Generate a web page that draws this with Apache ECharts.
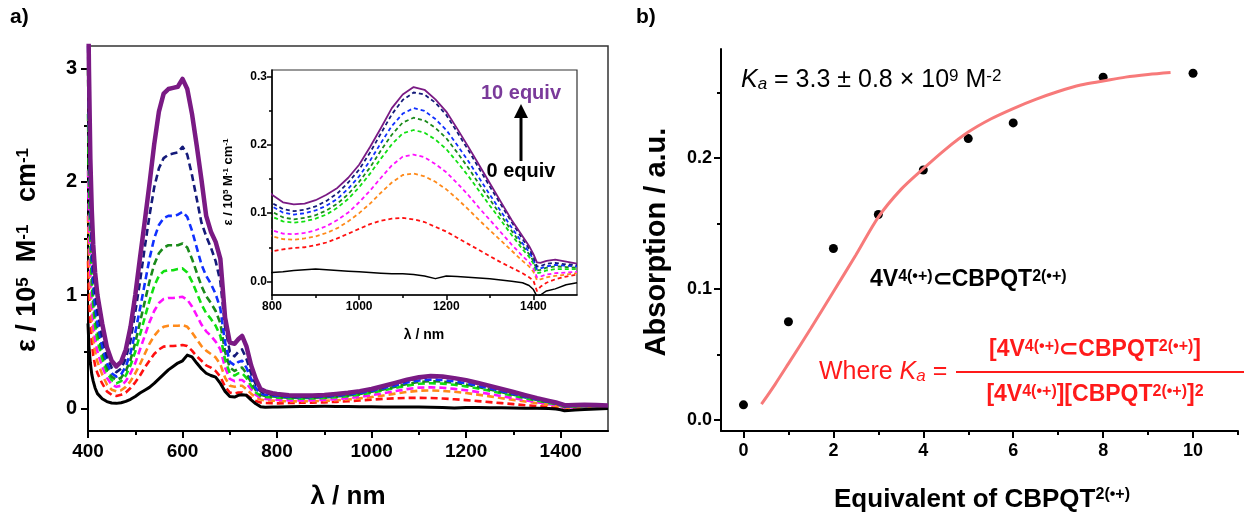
<!DOCTYPE html>
<html><head><meta charset="utf-8">
<script src="https://cdn.jsdelivr.net/npm/echarts@6/dist/echarts.min.js"></script>
<style>html,body{margin:0;padding:0;background:#fff}#c{width:1244px;height:514px}</style>
</head><body><div id="c"></div>
<script>
const FONT = '"Liberation Sans", Arial, Helvetica, sans-serif';

// ---------- Panel a: spectra (wavelength nm, epsilon / 1e5 M-1 cm-1) ----------
const W = [400,402,405,408,411,415,420,
  430,440,450,460,470,480,490,500,
  510,520,530,540,550,560,570,580,590,600,
  610,620,630,640,650,660,670,680,690,700,
  710,718,726,735,745,755,765,775,790,
  800,825,850,875,900,925,950,975,1000,
  1025,1050,1075,1100,1125,1150,1175,1200,
  1225,1250,1275,1300,1325,1350,1375,
  1390,1400,1408,1416,1430,1450,1475,1500];

const EQ0 = [0.75,0.55,0.40,0.30,0.24,0.18,0.13,
  0.085,0.06,0.047,0.044,0.05,0.062,0.08,0.105,
  0.135,0.16,0.185,0.22,0.26,0.30,0.34,0.37,0.40,0.42,
  0.47,0.455,0.40,0.35,0.31,0.29,0.275,0.22,0.15,0.105,
  0.10,0.115,0.12,0.115,0.075,0.04,0.015,0.01,0.012,
  0.013,0.014,0.016,0.017,0.018,0.017,0.016,0.015,0.014,
  0.013,0.012,0.011,0.011,0.010,0.008,0.004,0.008,
  0.007,0.006,0.005,0.004,0.002,0.000,-0.002,
  -0.006,-0.012,-0.022,-0.020,-0.014,-0.011,-0.005,-0.002];

const EQ1 = [1.3,1.0,0.75,0.58,0.47,0.38,0.31,
  0.22,0.15,0.12,0.11,0.12,0.14,0.18,0.23,
  0.29,0.36,0.42,0.48,0.52,0.545,0.55,0.55,0.555,0.56,
  0.55,0.51,0.46,0.42,0.38,0.36,0.33,0.28,0.19,0.14,
  0.13,0.14,0.14,0.12,0.09,0.065,0.052,0.047,0.045,
  0.044,0.047,0.049,0.050,0.053,0.057,0.063,0.070,0.077,
  0.084,0.089,0.092,0.093,0.091,0.087,0.080,0.073,
  0.064,0.055,0.046,0.037,0.028,0.020,0.012,
  0.006,0.001,-0.014,-0.008,-0.002,0.003,0.007,0.010];

const EQ2 = [1.7,1.3,0.98,0.76,0.62,0.50,0.41,
  0.30,0.21,0.165,0.15,0.16,0.19,0.24,0.31,
  0.39,0.48,0.57,0.64,0.69,0.72,0.73,0.73,0.73,0.735,
  0.72,0.67,0.61,0.55,0.51,0.48,0.45,0.39,0.27,0.20,
  0.19,0.20,0.20,0.17,0.13,0.095,0.078,0.07,0.068,
  0.066,0.062,0.061,0.063,0.066,0.071,0.078,0.088,0.100,
  0.114,0.130,0.145,0.156,0.158,0.154,0.146,0.135,
  0.121,0.106,0.090,0.075,0.060,0.045,0.030,
  0.022,0.014,0.002,0.003,0.006,0.008,0.010,0.012];

const EQ3 = [2.1,1.6,1.2,0.92,0.75,0.61,0.50,
  0.37,0.27,0.21,0.19,0.20,0.24,0.31,0.40,
  0.52,0.64,0.76,0.86,0.93,0.965,0.975,0.975,0.98,0.985,
  0.96,0.90,0.82,0.74,0.68,0.64,0.59,0.52,0.36,0.26,
  0.24,0.25,0.25,0.22,0.17,0.12,0.095,0.082,0.078,
  0.075,0.070,0.069,0.071,0.075,0.081,0.090,0.101,0.116,
  0.133,0.152,0.170,0.183,0.186,0.182,0.172,0.160,
  0.144,0.127,0.108,0.090,0.072,0.054,0.037,
  0.028,0.019,0.006,0.007,0.010,0.012,0.013,0.014];

const EQ4 = [2.6,2.0,1.45,1.1,0.9,0.73,0.60,
  0.44,0.32,0.25,0.22,0.24,0.29,0.38,0.50,
  0.65,0.80,0.95,1.08,1.17,1.21,1.22,1.22,1.23,1.236,
  1.20,1.12,1.02,0.92,0.84,0.79,0.73,0.64,0.43,0.31,
  0.29,0.31,0.31,0.27,0.20,0.14,0.11,0.10,0.097,
  0.095,0.088,0.086,0.088,0.092,0.098,0.108,0.121,0.138,
  0.158,0.180,0.201,0.217,0.222,0.218,0.208,0.194,
  0.175,0.155,0.133,0.111,0.090,0.068,0.047,
  0.036,0.026,0.012,0.013,0.016,0.018,0.018,0.018];

const EQ5 = [3.0,2.3,1.65,1.25,1.0,0.82,0.68,
  0.50,0.36,0.28,0.25,0.27,0.33,0.43,0.58,
  0.76,0.94,1.12,1.27,1.37,1.42,1.44,1.44,1.44,1.456,
  1.42,1.32,1.20,1.08,0.99,0.93,0.86,0.75,0.50,0.36,
  0.33,0.35,0.36,0.31,0.23,0.16,0.12,0.108,0.105,
  0.102,0.094,0.091,0.093,0.097,0.104,0.114,0.128,0.146,
  0.167,0.192,0.215,0.233,0.240,0.236,0.225,0.210,
  0.189,0.167,0.143,0.120,0.097,0.074,0.052,
  0.040,0.030,0.016,0.017,0.020,0.022,0.021,0.020];

const EQ6 = [3.3,2.5,1.8,1.35,1.1,0.9,0.75,
  0.55,0.40,0.31,0.28,0.30,0.37,0.49,0.67,
  0.88,1.10,1.32,1.50,1.62,1.68,1.70,1.70,1.71,1.735,
  1.69,1.57,1.42,1.27,1.17,1.10,1.01,0.88,0.58,0.41,
  0.38,0.41,0.42,0.36,0.26,0.18,0.13,0.12,0.114,
  0.110,0.101,0.098,0.100,0.104,0.111,0.121,0.136,0.154,
  0.177,0.203,0.228,0.246,0.254,0.250,0.238,0.222,
  0.200,0.177,0.152,0.127,0.103,0.079,0.056,
  0.043,0.032,0.018,0.019,0.022,0.024,0.023,0.022];

const EQ8 = [3.5,2.7,1.95,1.5,1.25,1.03,0.86,
  0.63,0.46,0.36,0.32,0.35,0.44,0.60,0.85,
  1.12,1.42,1.70,1.95,2.12,2.21,2.24,2.25,2.26,2.31,
  2.24,2.06,1.85,1.64,1.52,1.42,1.30,1.12,0.72,0.50,
  0.46,0.50,0.52,0.44,0.31,0.21,0.15,0.13,0.12,
  0.115,0.106,0.103,0.105,0.110,0.118,0.129,0.145,0.164,
  0.189,0.217,0.245,0.266,0.277,0.274,0.262,0.244,
  0.219,0.193,0.166,0.139,0.113,0.087,0.062,
  0.048,0.036,0.022,0.022,0.026,0.027,0.025,0.024];

const EQ10 = [3.8,3.0,2.2,1.75,1.45,1.2,1.0,
  0.75,0.54,0.42,0.37,0.41,0.52,0.72,1.0,
  1.33,1.65,1.98,2.33,2.62,2.78,2.82,2.83,2.84,2.91,
  2.82,2.60,2.32,2.02,1.70,1.56,1.47,1.32,0.80,0.58,
  0.57,0.61,0.64,0.55,0.38,0.26,0.17,0.15,0.133,
  0.127,0.116,0.113,0.114,0.119,0.127,0.137,0.152,0.171,
  0.197,0.225,0.254,0.274,0.285,0.281,0.267,0.249,
  0.224,0.198,0.171,0.144,0.117,0.090,0.066,
  0.052,0.040,0.028,0.027,0.030,0.032,0.029,0.026];

const A_X_LABELS = [400,600,800,1000,1200,1400];
const A_X_MINOR = [500,700,900,1100,1300];
const A_Y_LABELS = [0,1,2,3];
const A_Y_MINOR = [0.5,1.5,2.5];
const IN_X_LABELS = [800,1000,1200,1400];
const IN_X_MINOR = [900,1100,1300];
const IN_Y_LABELS = [0,0.1,0.2,0.3];
const IN_Y_MINOR = [0.05,0.15,0.25];

// ---------- Panel b: titration ----------
const B_EQUIV = [0,1,2,3,4,5,6,8,10];
const B_ABS = [0.0115,0.075,0.131,0.157,0.191,0.215,0.227,0.262,0.265];
const FIT_X = [0.4,0.7,1.0,1.5,2.0,2.5,3.0,3.5,4.0,4.5,5.0,5.5,6.0,6.5,7.0,7.5,8.0,8.5,9.0,9.5];
const FIT_Y = [0.012,0.027,0.043,0.070,0.098,0.126,0.155,0.176,0.192,0.207,0.220,0.230,0.238,0.245,0.251,0.256,0.259,0.262,0.264,0.2655];
const B_X_LABELS = [0,2,4,6,8,10];
const B_X_MINOR = [1,3,5,7,9,11];
const B_Y_LABELS = [0,0.1,0.2];
const B_Y_MINOR = [0.05,0.15,0.25];

const SERIES_DEF = [
  {v: EQ1, color:'#ff1010', dash:true},
  {v: EQ2, color:'#ff8a1a', dash:true},
  {v: EQ3, color:'#ff10ff', dash:true},
  {v: EQ4, color:'#10e010', dash:true},
  {v: EQ5, color:'#1a8a1a', dash:true},
  {v: EQ6, color:'#1030ff', dash:true},
  {v: EQ8, color:'#141a7a', dash:true},
  {v: EQ0, color:'#000000', dash:false, w:3, wi:1.5},
  {v: EQ10, color:'#7a1a84', dash:false, w:4.5, wi:1.8}
];

function zip(xs, ys, filt) {
  const out = [];
  for (let i = 0; i < xs.length; i++) if (!filt || filt(xs[i])) out.push([xs[i], ys[i]]);
  return out;
}

function xAx(grid, min, max, labels, ticks, opt) {
  return {
    gridIndex: grid, type:'value', min, max, position:'bottom',
    axisLine: {show: opt.line !== false, onZero:false, lineStyle:{color:'#000', width: opt.lw || 2}},
    axisTick: {show:true, customValues: ticks, length: opt.tl, lineStyle:{color:'#000', width: opt.tw || 2}},
    axisLabel: labels ? {show:true, customValues: labels, margin: opt.margin, fontSize: opt.fs, fontWeight:'bold', color:'#000', fontFamily: FONT,
      formatter: opt.fmt || (v => String(v))} : {show:false},
    splitLine: {show:false}, minorTick:{show:false}
  };
}
function yAx(grid, min, max, labels, ticks, opt) {
  const a = xAx(grid, min, max, labels, ticks, opt);
  a.position = 'left';
  return a;
}

const xAxes = [
  xAx(0, 400, 1500, A_X_LABELS, A_X_LABELS, {tl:7, margin:11, fs:19}),
  xAx(0, 400, 1500, null, A_X_MINOR, {tl:4, line:false}),
  xAx(1, 800, 1500, IN_X_LABELS, IN_X_LABELS, {tl:5, margin:6, fs:12, lw:1.5, tw:1.5}),
  xAx(1, 800, 1500, null, IN_X_MINOR, {tl:3, line:false, tw:1.5}),
  xAx(2, -0.5, 11, B_X_LABELS, B_X_LABELS, {tl:7, margin:11, fs:18}),
  xAx(2, -0.5, 11, null, B_X_MINOR, {tl:4, line:false})
];
const yAxes = [
  yAx(0, -0.2, 3.2, A_Y_LABELS, A_Y_LABELS, {tl:7, margin:11, fs:20}),
  yAx(0, -0.2, 3.2, null, A_Y_MINOR, {tl:4, line:false}),
  yAx(1, -0.02, 0.31, IN_Y_LABELS, IN_Y_LABELS, {tl:5, margin:5, fs:12, lw:1.5, tw:1.5, fmt: v => v.toFixed(1)}),
  yAx(1, -0.02, 0.31, null, IN_Y_MINOR, {tl:3, line:false, tw:1.5}),
  yAx(2, -0.0085, 0.2835, B_Y_LABELS, B_Y_LABELS, {tl:7, margin:9, fs:18, fmt: v => v.toFixed(1)}),
  yAx(2, -0.0085, 0.2835, null, B_Y_MINOR, {tl:4, line:false})
];

const series = [];
SERIES_DEF.forEach(d => {
  series.push({
    type:'line', xAxisIndex:0, yAxisIndex:0, data: zip(W, d.v), symbol:'none', showSymbol:false,
    clip:true, silent:true,
    lineStyle:{color:d.color, width: d.dash ? 2.6 : d.w, type: d.dash ? [7,4] : 'solid', cap:'butt', join:'round'}
  });
});
SERIES_DEF.forEach(d => {
  series.push({
    type:'line', xAxisIndex:2, yAxisIndex:2, data: zip(W, d.v, x => x >= 790), symbol:'none', showSymbol:false,
    clip:true, silent:true,
    lineStyle:{color:d.color, width: d.dash ? 1.8 : d.wi, type: d.dash ? [4,3] : 'solid', cap:'butt', join:'round'}
  });
});
series.push({
  type:'line', xAxisIndex:4, yAxisIndex:4, data: zip(FIT_X, FIT_Y), symbol:'none', smooth:0.3,
  silent:true, lineStyle:{color:'#f77a7a', width:3}
});
series.push({
  type:'scatter', xAxisIndex:4, yAxisIndex:4, data: zip(B_EQUIV, B_ABS), symbol:'circle', symbolSize:9,
  silent:true, itemStyle:{color:'#000', opacity:1}
});

// ---------- rich text helpers ----------
function rich(size, color, weight, sr) {
  const s = Math.round(size * (sr || 0.62));
  const base = {fontFamily: FONT, fill: color, color: color};
  return {
    n: Object.assign({}, base, {fontSize:size, fontWeight:weight, lineHeight:Math.round(size*1.0), verticalAlign:'bottom'}),
    i: Object.assign({}, base, {fontSize:size, fontWeight:weight, fontStyle:'italic', lineHeight:Math.round(size*1.0), verticalAlign:'bottom'}),
    s: Object.assign({}, base, {fontSize:s, fontWeight:weight, lineHeight:Math.round(s*1.0), verticalAlign:'top'}),
    u: Object.assign({}, base, {fontSize:s, fontWeight:weight, fontStyle:'italic', lineHeight:Math.round(s*1.0), verticalAlign:'bottom'})
  };
}
function txt(text, x, y, size, color, weight, align, rot, sr) {
  return {
    type:'text', x, y, rotation: rot || 0, silent:true, z:100,
    style:{text, rich: rich(size, color, weight, sr), fill: color,
      font: weight + ' ' + size + 'px ' + FONT,
      align: align || 'center', verticalAlign:'middle', textAlign: align || 'center', textVerticalAlign:'middle'}
  };
}

const RED = '#ff1a1a';
const graphic = [
  txt('{n|a)}', 10, 17, 21, '#000', 'bold', 'left'),
  txt('{n|b)}', 636, 17, 21, '#000', 'bold', 'left'),
  txt('{n|ε / 10}{s|5}{n|  M}{s|-1}{n|   cm}{s|-1}', 28, 250, 27, '#000', 'bold', 'center', Math.PI/2),
  txt('{n|λ / nm}', 348, 497, 26, '#000', 'bold', 'center'),
  txt('{n|ε / 10}{s|5}{n| M}{s|-1}{n| cm}{s|-1}', 228, 182, 13, '#000', 'bold', 'center', Math.PI/2),
  txt('{n|λ / nm}', 424, 335, 14, '#000', 'bold', 'center'),
  txt('{n|10 equiv}', 521, 93, 20, '#7a3a9a', 'bold', 'center'),
  txt('{n|0 equiv}', 521, 171, 20, '#000', 'bold', 'center'),
  {type:'line', silent:true, z:100, shape:{x1:521, y1:161, x2:521, y2:114}, style:{stroke:'#000', lineWidth:3}},
  {type:'polygon', silent:true, z:100, shape:{points:[[521,104],[514,118],[528,118]]}, style:{fill:'#000'}},
  txt('{n|Absorption / a.u.}', 657, 242, 29, '#000', 'bold', 'center', Math.PI/2),
  txt('{n|Equivalent of CBPQT}{s|2(•+)}', 982, 500, 26, '#000', 'bold', 'center'),
  txt('{i|K}{u|a}{n| = 3.3 ± 0.8 × 10}{s|9}{n| M}{s|-2}', 741, 80, 25, '#000', 'normal', 'left', 0, 0.66),
  txt('{n|4V}{s|4(•+)}{n|⊂CBPQT}{s|2(•+)}', 870, 280, 23, '#000', 'bold', 'left', 0, 0.7),
  txt('{n|Where }{i|K}{u|a}{n| =}', 819, 372, 25, RED, 'normal', 'left', 0, 0.66),
  {type:'line', silent:true, z:100, shape:{x1:956, y1:372, x2:1244, y2:372}, style:{stroke:RED, lineWidth:2}},
  txt('{n|[4V}{s|4(•+)}{n|⊂CBPQT}{s|2(•+)}{n|]}', 1095, 350, 23, RED, 'bold', 'center', 0, 0.7),
  txt('{n|[4V}{s|4(•+)}{n|][CBPQT}{s|2(•+)}{n|]}{s|2}', 1095, 395, 23, RED, 'bold', 'center', 0, 0.7)
];

const chart = echarts.init(document.getElementById('c'), null, {renderer:'canvas'});
chart.setOption({
  animation:false,
  backgroundColor:'#fff',
  grid:[
    {left:88, top:46, width:520, height:385, show:true, borderColor:'#333', borderWidth:1.5, backgroundColor:'transparent'},
    {left:272, top:70, width:305, height:225, show:true, borderColor:'#333', borderWidth:1.2, backgroundColor:'transparent'},
    {left:721, top:49, width:517, height:382}
  ],
  xAxis: xAxes,
  yAxis: yAxes,
  series,
  graphic
});
</script></body></html>
